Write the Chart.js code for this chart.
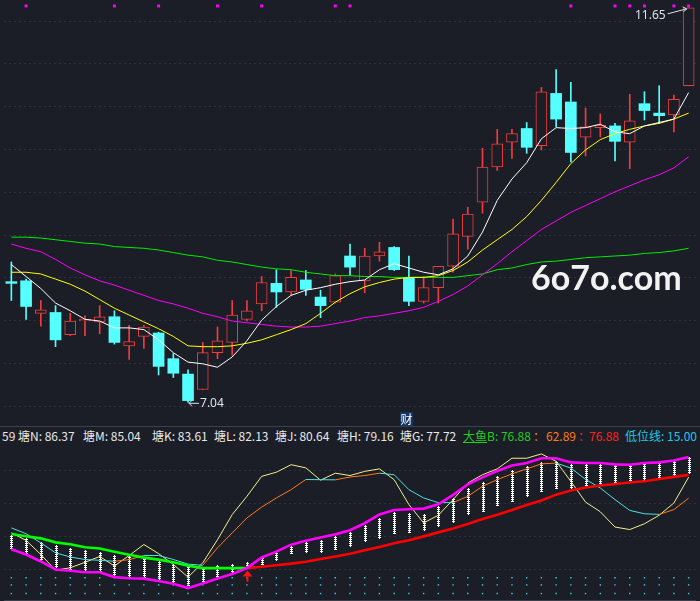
<!DOCTYPE html>
<html>
<head>
<meta charset="utf-8">
<script src="https://cdn.jsdelivr.net/npm/chart.js@4.4.1/dist/chart.umd.min.js"></script>
<style>
  html,body{margin:0;padding:0;background:#1b1e26;}
  #wrap{position:relative;width:700px;height:601px;overflow:hidden;background:#1b1e26;}
  canvas{position:absolute;left:0;}
  #sep{position:absolute;left:0;top:426px;width:700px;height:1px;background:#3c414d;}
  #info{position:absolute;left:0;top:428px;width:700px;height:15px;}
  #info span{position:absolute;top:0;line-height:15px;font-size:12px;
        font-family:"Noto Sans CJK SC","Noto Sans",sans-serif;white-space:nowrap;color:#e8e8e8;}
  #wm{position:absolute;left:531px;top:260px;font-family:Lato,"DejaVu Sans",sans-serif;font-weight:700;
      font-size:34px;line-height:34px;color:#f2f2f2;white-space:nowrap;}
  #cai{position:absolute;left:400px;top:412px;width:13px;height:14px;line-height:14px;font-size:12px;
       font-family:"Noto Sans CJK SC",sans-serif;color:#ffffff;background:#143563;text-align:center;}
</style>
</head>
<body>
<div id="wrap">
  <canvas id="top" width="700" height="426" style="top:0"></canvas>
  <div id="sep"></div>
  <div id="info"></div>
  <canvas id="bot" width="700" height="160" style="top:441px"></canvas>
  <div id="wm">6o7o.com</div>
  <div id="cai">财</div>
</div>
<script>
// ---------------- data ----------------
const days = ['1','2','3','4','5','6','7','8','9','10','11','12','13','14','15','16','17','18','19','20',
  '21','22','23','24','25','26','27','28','29','30','31','32','33','34','35','36','37','38','39','40',
  '41','42','43','44','45','46','47'];
const openP  = [8.45,8.46,8.08,8.09,7.83,7.99,7.98,8.04,7.70,7.81,7.85,7.55,7.37,7.19,7.62,7.74,8.01,8.19,8.43,8.33,8.47,8.27,8.21,8.75,8.46,8.75,8.85,8.50,8.22,8.38,8.63,8.98,9.38,9.79,10.08,10.24,10.04,10.65,10.55,10.14,10.25,10.27,10.08,10.53,10.42,10.40,10.74];
const closeP = [8.43,8.16,8.12,7.77,7.99,8.01,8.04,7.74,7.75,7.92,7.46,7.38,7.06,7.62,7.76,8.06,8.11,8.44,8.33,8.50,8.36,8.17,8.52,8.62,8.75,8.80,8.59,8.22,8.38,8.63,9.01,9.24,9.79,10.06,10.18,10.02,10.67,10.35,9.96,10.26,10.28,10.09,10.33,10.45,10.39,10.58,11.65];
const highP  = [8.68,8.48,8.23,8.17,8.08,8.05,8.17,8.11,7.94,7.94,7.86,7.61,7.42,7.74,7.92,8.23,8.23,8.51,8.59,8.58,8.58,8.35,8.54,8.89,8.84,8.91,8.86,8.75,8.51,8.63,9.18,9.32,10.01,10.23,10.23,10.31,10.72,10.93,10.78,10.48,10.41,10.30,10.64,10.67,10.74,10.63,11.65];
const lowP   = [8.23,8.01,7.93,7.69,7.82,7.82,7.84,7.72,7.54,7.67,7.36,7.33,7.04,7.19,7.55,7.59,7.99,8.11,8.15,8.29,8.29,8.03,8.20,8.53,8.32,8.69,8.58,8.17,8.20,8.20,8.56,8.83,9.25,9.75,9.89,9.95,9.99,10.26,9.85,9.92,10.14,9.86,9.77,10.34,10.30,10.20,10.74];
const ma5  = [8.65,8.51,8.37,8.20,8.11,8.01,7.99,7.91,7.91,7.89,7.77,7.62,7.51,7.49,7.45,7.57,7.76,8.00,8.16,8.29,8.35,8.38,8.42,8.45,8.47,8.59,8.66,8.61,8.56,8.53,8.60,8.75,9.03,9.40,9.65,9.84,10.12,10.25,10.24,10.25,10.29,10.20,10.18,10.27,10.31,10.35,10.66];
const ma10 = [8.56,8.56,8.54,8.48,8.42,8.34,8.24,8.14,8.06,7.98,7.90,7.81,7.70,7.69,7.69,7.70,7.73,7.77,7.83,7.89,7.96,8.08,8.21,8.31,8.39,8.44,8.48,8.50,8.50,8.52,8.58,8.68,8.82,8.94,9.06,9.21,9.40,9.61,9.83,9.99,10.11,10.18,10.23,10.27,10.30,10.35,10.42];
const ma30 = [8.89,8.84,8.80,8.71,8.61,8.53,8.46,8.41,8.35,8.29,8.23,8.19,8.14,8.08,8.04,7.99,7.97,7.95,7.93,7.92,7.92,7.93,7.96,7.99,8.03,8.05,8.08,8.11,8.15,8.22,8.30,8.40,8.53,8.66,8.80,8.93,9.06,9.16,9.26,9.34,9.42,9.50,9.57,9.64,9.70,9.78,9.91];
const ma60 = [8.97,8.97,8.96,8.94,8.92,8.90,8.89,8.86,8.85,8.84,8.82,8.79,8.76,8.74,8.70,8.68,8.65,8.62,8.60,8.59,8.56,8.54,8.52,8.52,8.51,8.51,8.50,8.50,8.50,8.50,8.50,8.52,8.54,8.59,8.61,8.65,8.68,8.69,8.71,8.73,8.74,8.75,8.76,8.78,8.79,8.81,8.84];
const priceGrid = [7.0,7.5,8.0,8.5,9.0,9.5,10.0,10.5,11.0,11.5];
const markIdx = [1,7,10,14,17,22,23,38,41,42,43,45,46];
const markLevel = 11.672;
const lowMarkIdx = 12, lowMarkText = '7.04';
const highMarkIdx = 46, highMarkText = '11.65';

// indicator panel
const tangTop = [40.6,39.2,36.8,34.5,33.0,31.6,30.3,28.8,27.8,26.9,25.3,23.4,22.1,20.6,22.5,23.4,24.4,27.2,30.7,34.1,36.8,37.7,40.2,42.5,46.9,51.2,54.5,53.9,53.5,58.3,63.0,69.1,72.6,76.4,79.8,82.1,84.4,85.5,83.6,83.6,83.6,82.9,82.9,84.0,84.4,86.3,87.4];
const tangBot = [32.9,29.1,25.0,21.5,20.2,19.6,19.2,16.9,15.4,14.5,13.5,11.6,10.7,11.6,14.5,18.3,21.1,23.4,25.9,29.7,30.3,30.7,32.6,34.1,37.3,39.2,41.7,42.5,44.0,46.3,48.8,53.1,55.4,58.9,61.1,64.0,66.9,68.8,68.8,69.7,70.7,71.6,72.6,73.5,74.5,75.8,77.72];
const tangO   = [32.1,29.0,24.8,20.0,19.2,18.3,18.3,15.4,14.7,14.5,13.0,11.4,8.8,11.6,14.5,17.3,20.8,27.2,30.7,34.9,37.3,39.2,41.1,43.6,47.8,53.1,55.8,56.2,56.6,59.2,64.9,71.2,75.4,79.2,82.5,84.0,86.9,86.9,84.4,84.0,84.0,83.2,83.0,84.0,84.4,85.5,87.59];
const fishB   = [41.3,40.0,38.7,36.3,35.2,33.4,32.6,30.6,28.9,27.1,25.9,24.3,22.3,20.8,20.8,20.8,20.8,21.6,22.5,23.5,24.6,26.3,27.8,29.5,31.5,33.5,35.7,37.6,39.9,42.3,44.7,47.3,50.3,52.9,55.8,58.8,61.5,65.0,67.5,69.3,70.5,71.4,72.3,73.1,74.4,75.7,76.88];
const kLine   = [42.0,37.5,29.0,19.5,21.0,24.3,27.8,22.1,28.4,35.0,29.5,23.0,15.4,24.0,37.9,53.0,64.0,76.0,78.5,83.0,81.1,73.7,77.9,76.5,79.0,80.5,74.0,59.0,48.0,52.6,62.0,72.0,77.0,80.5,86.9,86.9,89.5,85.0,73.0,60.5,54.7,45.5,44.0,47.5,52.6,60.0,75.5];
const dLine   = [45.0,41.5,36.0,30.0,27.5,26.0,25.5,24.9,25.9,28.4,28.4,26.0,23.2,22.5,33.0,42.0,51.0,57.5,63.0,68.0,74.1,74.0,73.9,75.6,76.5,77.9,77.0,68.0,63.0,60.2,60.2,64.0,70.0,74.0,77.5,80.5,83.5,84.0,81.0,74.2,69.0,62.0,55.5,53.5,53.1,56.0,62.89];
const lowLevels = [15.0,10.7,5.5];
const indGrid = [20,40,60,80];
const signalIdx = 16, signalTip = 19.4, signalTail = 12.6;
const infoNames  = ['塘N','塘M','塘K','塘L','塘J','塘H','塘G'];
const infoValues = [86.37,85.04,83.61,82.13,80.64,79.16,77.72];
const fishText = ['76.88','62.89','76.88'];
const lowLineText = '15.00';

// ---------------- colors ----------------
const BG='#1b1e26', RED='#f03c3c', CYAN='#55ffff', GRID='#2e323b';

// ---------------- info row (layout positions only) ----------------
(function(){
  const info=document.getElementById('info');
  const add=(html,c,left)=>{const s=document.createElement('span');s.innerHTML=html;s.style.color=c;s.style.left=left+'px';info.appendChild(s);return s;};
  const tangX=[18,83,152,214,275,337,400];
  add('59','#e8e8e8',2);
  infoNames.forEach((n,i)=>add(n+': '+infoValues[i].toFixed(2),'#e8e8e8',tangX[i]));
  add('<u>大鱼</u>B: '+fishText[0],'#22cc22',463);
  add('：','#ff7a1a',533);
  add(fishText[1],'#ff7a1a',546);
  add('：','#ff2020',578);
  add(fishText[2],'#ff2020',589);
  add('低位线: '+lowLineText,'#22c6e6',625);
})();

// ---------------- plugins ----------------
const gridPlugin = (vals) => ({
  id:'grid',
  beforeDatasetsDraw(chart){
    const {ctx, chartArea, scales:{y}} = chart;
    ctx.save();
    ctx.strokeStyle=GRID; ctx.lineWidth=1; ctx.setLineDash([2,3]);
    vals.forEach(v=>{
      const py=Math.round(y.getPixelForValue(v))+0.5;
      ctx.beginPath(); ctx.moveTo(chartArea.left,py); ctx.lineTo(chartArea.right,py); ctx.stroke();
    });
    ctx.restore();
  }
});

const labelPlugin = {
  id:'labels',
  afterDatasetsDraw(chart){
    const {ctx, scales:{x,y}} = chart;
    ctx.save();
    ctx.fillStyle='#d8e2f0'; ctx.strokeStyle='#d8e2f0'; ctx.lineWidth=1;
    ctx.font='12px "Noto Sans", "DejaVu Sans", sans-serif';
    let px=x.getPixelForValue(lowMarkIdx), py=y.getPixelForValue(lowP[lowMarkIdx])+1;
    ctx.beginPath(); ctx.moveTo(px+1,py); ctx.lineTo(px+11,py); ctx.stroke();
    ctx.beginPath(); ctx.moveTo(px+1,py); ctx.lineTo(px+4,py-3); ctx.moveTo(px+1,py); ctx.lineTo(px+4,py+3); ctx.stroke();
    ctx.textAlign='left'; ctx.textBaseline='middle';
    ctx.fillText(lowMarkText, px+12, py);
    px=x.getPixelForValue(highMarkIdx); py=y.getPixelForValue(highP[highMarkIdx]);
    ctx.beginPath(); ctx.moveTo(px-21,py+6); ctx.lineTo(px-2,py+1); ctx.stroke();
    ctx.beginPath(); ctx.moveTo(px-2,py+1); ctx.lineTo(px-6,py-1); ctx.moveTo(px-2,py+1); ctx.lineTo(px-5,py+4); ctx.stroke();
    ctx.textAlign='right';
    ctx.fillText(highMarkText, px-23, py+8);
    ctx.restore();
  }
};

const stackPlugin = {
  id:'stacks',
  afterDatasetDraw(chart, args){
    if (chart.data.datasets[args.index].id !== 'tang') return;
    const ctx=chart.ctx;
    ctx.save(); ctx.fillStyle='#ffffff';
    args.meta.data.forEach(el=>{
      const top=Math.round(Math.min(el.y, el.base)), bot=Math.round(Math.max(el.y, el.base));
      const cx=Math.round(el.x);
      ctx.fillRect(cx, top, 1, bot-top+1);
      for(let yy=top+1; yy<=bot; yy+=2){ ctx.fillRect(cx-1, yy, 3, 1); }
    });
    ctx.restore();
  }
};

const signalPlugin = {
  id:'signal',
  afterDatasetsDraw(chart){
    const {ctx, scales:{x,y}, chartArea} = chart;
    const px=Math.round(x.getPixelForValue(signalIdx)), tip=y.getPixelForValue(signalTip), tail=y.getPixelForValue(signalTail);
    ctx.save();
    ctx.fillStyle='#ff1010';
    ctx.beginPath(); ctx.moveTo(px+0.5,tip); ctx.lineTo(px-4.5,tip+6); ctx.lineTo(px+5.5,tip+6); ctx.closePath(); ctx.fill();
    ctx.fillRect(px-0.5, tip+6, 2, tail-tip-6);
    ctx.fillStyle='#3a3f4b';
    ctx.fillRect(chartArea.left, chart.height-1, chartArea.right-chartArea.left, 1);
    ctx.restore();
  }
};

// ---------------- top (price) chart ----------------
const isUp = i => closeP[i] >= openP[i];
const lineDs = (data,color,order) => ({type:'line', data, borderColor:color, borderWidth:1, pointRadius:0, tension:0, order, fill:false});

new Chart(document.getElementById('top'), {
  type:'bar',
  data:{
    labels:days,
    datasets:[
      lineDs(ma5,'#ffffff',0),
      lineDs(ma10,'#ffff00',0),
      lineDs(ma30,'#ff00ff',0),
      lineDs(ma60,'#00ee00',0),
      {type:'line', data:days.map((d,i)=>markIdx.includes(i)?markLevel:null), showLine:false,
       pointStyle:'rect', pointRadius:2.1, pointBackgroundColor:'#ff00ff', pointBorderWidth:0, order:0},
      {type:'bar', data:days.map((d,i)=>[openP[i],closeP[i]]),
       backgroundColor:days.map((d,i)=>isUp(i)?BG:CYAN),
       borderColor:days.map((d,i)=>isUp(i)?RED:CYAN),
       borderWidth:days.map((d,i)=>isUp(i)?1:0),
       borderSkipped:false, barThickness:11, grouped:false, minBarLength:1, order:1},
      {type:'bar', data:days.map((d,i)=>[lowP[i],highP[i]]),
       backgroundColor:days.map((d,i)=>isUp(i)?RED:CYAN),
       borderWidth:0, barThickness:1, grouped:false, order:2}
    ]
  },
  options:{
    responsive:false, animation:false, events:[], devicePixelRatio:1,
    layout:{padding:0},
    plugins:{legend:{display:false}, tooltip:{enabled:false}},
    scales:{
      x:{display:false, offset:true},
      y:{display:false, min:6.81, max:11.695}
    }
  },
  plugins:[gridPlugin(priceGrid), labelPlugin]
});

// ---------------- bottom (indicator) chart ----------------
const dirSeg = (upC, downC) => ({borderColor: c => c.p1.parsed.y > c.p0.parsed.y ? upC : downC});
const dotDs = (lv) => ({type:'line', data:days.map(()=>lv), showLine:false, pointStyle:'rect', pointRadius:1,
  pointBackgroundColor:'#2fd3e6', pointBorderWidth:0, order:6});

new Chart(document.getElementById('bot'), {
  type:'bar',
  data:{
    labels:days,
    datasets:[
      {id:'tang', type:'bar', data:days.map((d,i)=>[tangBot[i],tangTop[i]]), backgroundColor:'rgba(0,0,0,0)',
       borderWidth:0, barThickness:3, grouped:false, order:7},
      ...lowLevels.map(dotDs),
      {type:'line', data:kLine, borderColor:'#f2ef8c', borderWidth:1, pointRadius:0, tension:0, order:3},
      {type:'line', data:dLine, borderColor:'#4fe0e0', segment:dirSeg('#ff7a1a','#4fe0e0'), borderWidth:1, pointRadius:0, tension:0, order:2},
      {type:'line', data:fishB, borderColor:'#00ff00', segment:dirSeg('#ff0000','#00ff00'), borderWidth:2.6, pointRadius:0, tension:0, order:1},
      {type:'line', data:tangO, borderColor:'#ff00ff', borderWidth:2.6, pointRadius:0, tension:0, order:0}
    ]
  },
  options:{
    responsive:false, animation:false, events:[], devicePixelRatio:1,
    layout:{padding:0},
    plugins:{legend:{display:false}, tooltip:{enabled:false}},
    scales:{
      x:{display:false, offset:true},
      y:{display:false, min:3.43, max:94.857}
    }
  },
  plugins:[gridPlugin(indGrid), stackPlugin, signalPlugin]
});
</script>
</body>
</html>
